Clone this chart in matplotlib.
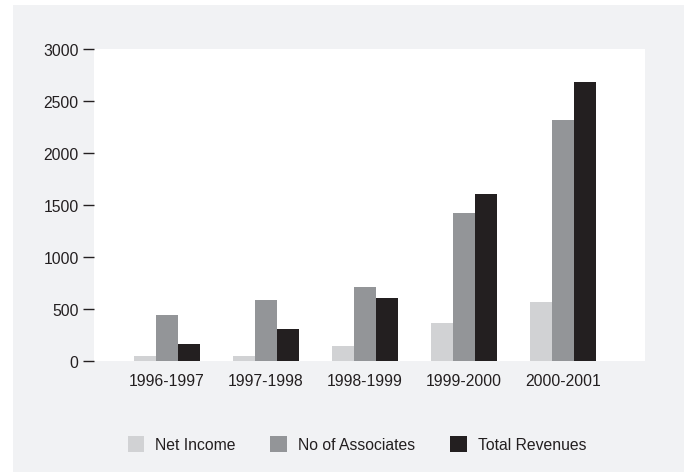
import matplotlib
matplotlib.use("Agg")
import matplotlib.pyplot as plt
from matplotlib.patches import Rectangle
import numpy as np

plt.rcParams['font.family'] = ['Liberation Sans', 'DejaVu Sans']

periods = ["1996-1997", "1997-1998", "1998-1999", "1999-2000", "2000-2001"]
net_income = [50, 50, 140, 370, 570]
associates = [445, 590, 715, 1420, 2320]
revenues = [160, 310, 610, 1610, 2685]
series_names = ["Net Income", "No of Associates", "Total Revenues"]
yticks = [0, 500, 1000, 1500, 2000, 2500, 3000]

colors = ["#d1d2d4", "#939598", "#231f20"]
text_color = "#231f20"
panel_color = "#f1f2f4"

W, H = 687, 477
fig = plt.figure(figsize=(W / 100, H / 100), dpi=100)
fig.patch.set_facecolor("white")

# grey backdrop panel behind everything
fig.patches.append(Rectangle((13 / W, 4 / H), (684 - 13) / W, (471 - 4) / H,
                             transform=fig.transFigure, facecolor=panel_color,
                             edgecolor="none", zorder=-10))

ax = fig.add_axes([94 / W, (H - 362) / H, (645 - 94) / W, (362 - 50) / H])
ax.set_zorder(1)
ax.set_facecolor("white")

x = np.arange(len(periods))
bw = 0.222
for i, (vals, name) in enumerate(zip([net_income, associates, revenues], series_names)):
    ax.bar(x + (i - 1) * bw, vals, width=bw, color=colors[i], label=name,
           linewidth=0)

ax.set_xlim(-0.737, 4.83)
ax.set_ylim(0, 3000)
ax.set_yticks(yticks)
ax.set_yticklabels([str(v) for v in yticks])
ax.set_xticks(x)
ax.set_xticklabels(periods)

for s in ax.spines.values():
    s.set_visible(False)

ax.tick_params(axis="y", length=8, width=1, color=text_color, pad=3,
               labelsize=11.3, labelcolor=text_color, direction="out")
ax.tick_params(axis="x", length=0, pad=9, labelsize=11.3, labelcolor=text_color)

handles, labels = ax.get_legend_handles_labels()
leg = fig.legend(handles, labels, loc="center", ncol=3,
                 bbox_to_anchor=(357 / W, 1 - 445 / H),
                 frameon=False, fontsize=11.3, handlelength=1.08,
                 handleheight=1.15, handletextpad=0.7, columnspacing=2.2,
                 borderpad=0)
for t in leg.get_texts():
    t.set_color(text_color)

fig.savefig("out.png", dpi=100, facecolor=fig.get_facecolor())
